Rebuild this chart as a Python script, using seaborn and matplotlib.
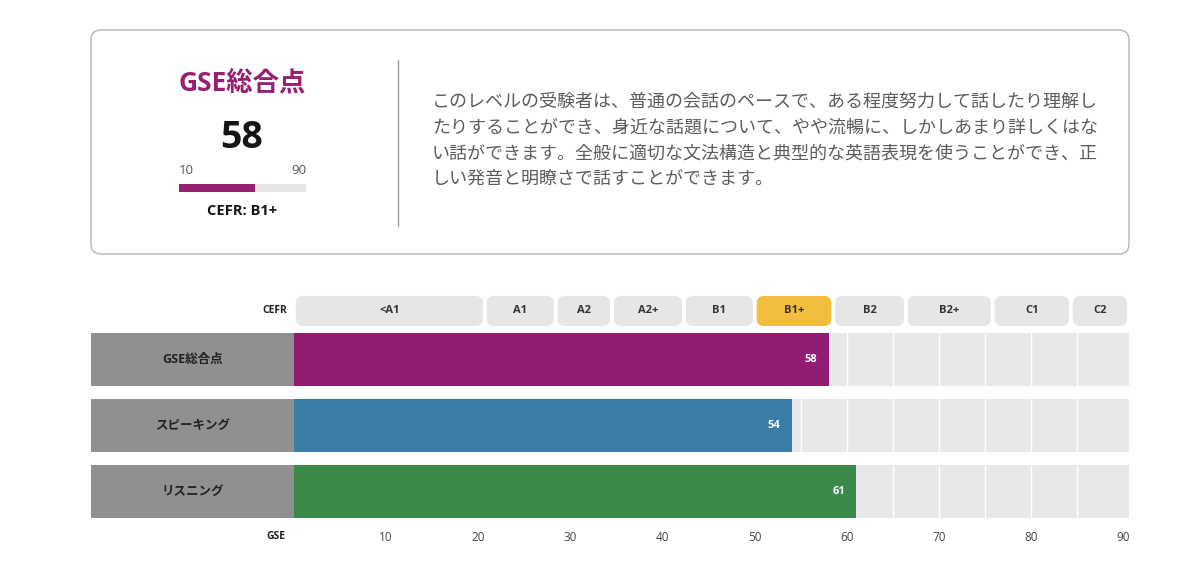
import numpy as np
import pandas as pd
import matplotlib
matplotlib.use("Agg")
import matplotlib.pyplot as plt
from matplotlib.patches import FancyBboxPatch, Rectangle
import seaborn as sns

# scores
sections = ["GSE総合点", "スピーキング", "リスニング"]
scores = [58, 54, 61]
bar_colors = ["#921b74", "#3a7ea7", "#3b8a4a"]

# CEFR bands on the GSE scale (edges)
cefr_levels = ["<A1", "A1", "A2", "A2+", "B1", "B1+", "B2", "B2+", "C1", "C2"]
cefr_edges = [0, 20.7, 28.4, 34.5, 42.3, 50.0, 58.5, 66.4, 75.8, 84.3, 90.6]
current_level = "B1+"

gse_ticks = [10, 20, 30, 40, 50, 60, 70, 80, 90]
grid_lines = list(range(5, 90, 5))
scale_min, scale_max = 10, 90
overall = scores[0]

summary_title = "GSE総合点"
summary_cefr = "CEFR: B1+"
summary_text = ("このレベルの受験者は、普通の会話のペースで、ある程度努力して話したり理解し\n"
                "たりすることができ、身近な話題について、やや流暢に、しかしあまり詳しくはな\n"
                "い話ができます。全般に適切な文法構造と典型的な英語表現を使うことができ、正\n"
                "しい発音と明瞭さで話すことができます。")

df = pd.DataFrame({"section": sections, "score": scores})

sns.set_theme(style="white")
plt.rcParams["font.family"] = ["Open Sans", "Noto Sans CJK JP", "DejaVu Sans"]

W, H = 1200, 563
fig = plt.figure(figsize=(W / 100, H / 100), dpi=100)

# --- overlay axes in pixel coords for the summary card ---
ov = fig.add_axes([0, 0, 1, 1])
ov.set_xlim(0, W)
ov.set_ylim(H, 0)
ov.axis("off")

card = FancyBboxPatch((91, 30), 1038, 224, boxstyle="round,pad=0,rounding_size=10",
                      facecolor="white", edgecolor="#b5b5b5", lw=1.0)
ov.add_patch(card)
ov.text(242, 84, summary_title, ha="center", va="center", fontsize=19,
        fontweight="bold", color="#962071")
ov.text(242, 138, str(overall), ha="center", va="center", fontsize=27,
        fontweight="bold", color="#151515")
ov.text(179, 171, str(scale_min), ha="left", va="center", fontsize=9.5, color="#555555")
ov.text(306, 171, str(scale_max), ha="right", va="center", fontsize=9.5, color="#555555")
ov.text(242, 211, summary_cefr, ha="center", va="center", fontsize=10.5,
        fontweight="bold", color="#151515")
ov.plot([398, 398], [60, 226], color="#a0a0a0", lw=1)
ov.text(432, 93, summary_text, ha="left", va="top", fontsize=13, color="#5c5c5c",
        linespacing=1.55)

# progress bar
pb = fig.add_axes([179 / W, 1 - 192 / H, 127 / W, 8 / H])
pb.set_xlim(scale_min, scale_max)
pb.set_ylim(-0.5, 0.5)
pb.axis("off")
pb.barh(0, scale_max - scale_min, left=scale_min, height=1, color="#e6e6e8", lw=0)
pb.barh(0, overall - scale_min, left=scale_min, height=1, color="#962071", lw=0)

# --- main bar chart ---
xmax = cefr_edges[-1]
ytop, ybot = -1.0, 2.45
px_x = (1129 - 294) / xmax
px_y = 66
top_px = 359.5 + ytop * px_y
bot_px = 359.5 + ybot * px_y
ax = fig.add_axes([294 / W, 1 - bot_px / H, (1129 - 294) / W, (bot_px - top_px) / H])

ypos = np.arange(len(sections))
ax.barh(ypos, [xmax] * len(sections), height=0.8, color="#e8e8ea", lw=0, zorder=0)
ax.vlines(grid_lines, -0.4, len(sections) - 0.6, colors="white", lw=1, zorder=0.5)

sns.barplot(data=df, x="score", y="section", hue="section", palette=bar_colors,
            saturation=1, width=0.8, legend=False, orient="h", ax=ax,
            linewidth=0, zorder=1)

for i, (name, val) in enumerate(zip(sections, scores)):
    ax.text(val - 1.2, i, str(val), ha="right", va="center", color="white",
            fontsize=8, fontweight="bold", zorder=3)
    ax.add_patch(Rectangle((-22.0, i - 0.4), 22.0, 0.8, facecolor="#909090",
                           edgecolor="none", lw=0, clip_on=False, zorder=2))
    ax.text(-11.0, i, name, ha="center", va="center", fontsize=9,
            fontweight="bold", color="#222222", clip_on=False, zorder=3)

# CEFR pills
pill_c, pill_h = -0.735, 0.455
gap = 0.2
for lvl, lo, hi in zip(cefr_levels, cefr_edges[:-1], cefr_edges[1:]):
    fc = "#f3bd40" if lvl == current_level else "#e6e6e9"
    ax.add_patch(FancyBboxPatch((lo + gap, pill_c - pill_h / 2), hi - lo - 2 * gap, pill_h,
                                boxstyle="round,pad=0,rounding_size=0.8",
                                mutation_aspect=px_x / px_y, facecolor=fc,
                                edgecolor="none", clip_on=False))
    ax.text((lo + hi) / 2, pill_c, lvl, ha="center", va="center", fontsize=8,
            fontweight="bold", color="#333333")
ax.text(-0.8, pill_c, "CEFR", ha="right", va="center", fontsize=7.5,
        fontweight="bold", color="#222222", clip_on=False)

ax.set_xlim(0, xmax)
ax.set_ylim(ybot, ytop)
ax.set_xticks(gse_ticks)
ax.set_xticklabels([str(t) for t in gse_ticks])
ax.tick_params(axis="x", length=0, pad=7, labelsize=8.5, labelcolor="#444444")
ax.set_yticks([])
ax.set_xlabel("")
ax.set_ylabel("")
sns.despine(ax=ax, left=True, bottom=True)
ax.text(-0.9, -15 / (bot_px - top_px), "GSE", ha="right", va="center", fontsize=7.5,
        fontweight="bold", color="#222222", transform=ax.get_xaxis_transform(),
        clip_on=False)

fig.savefig("out.png", dpi=100)
